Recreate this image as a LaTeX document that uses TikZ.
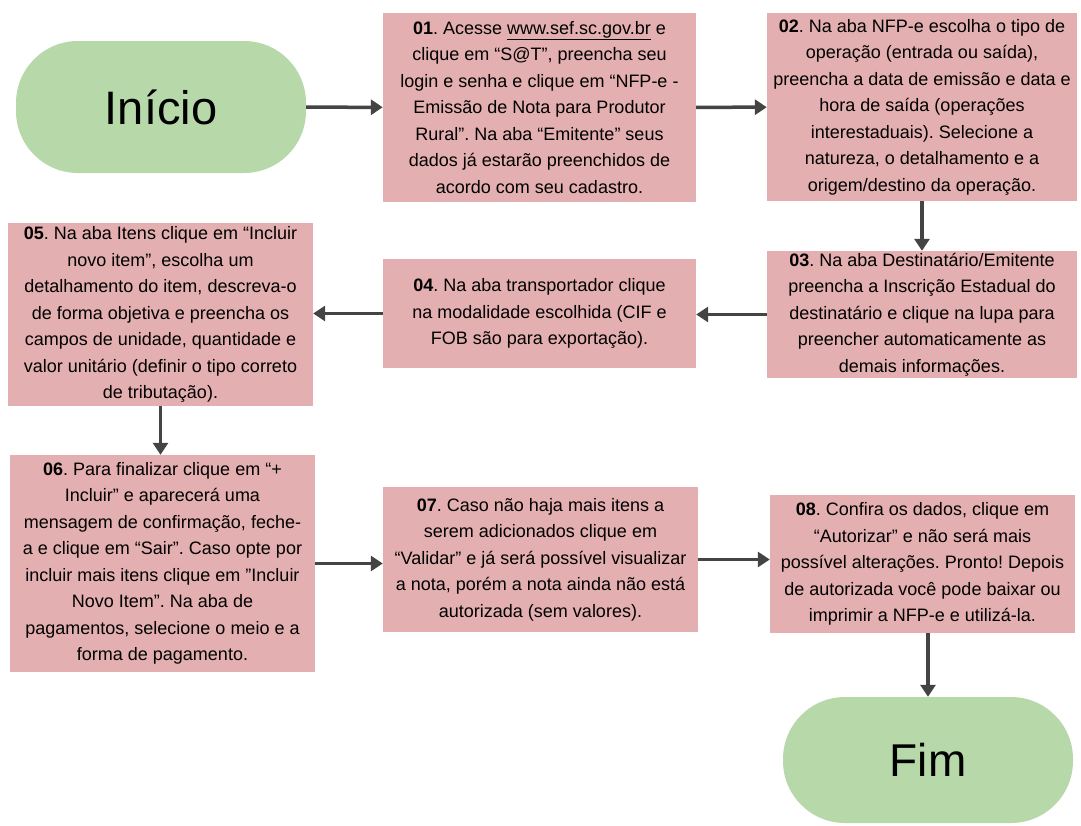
\documentclass[tikz,border=0pt]{standalone}
\usepackage{fontspec}
\setmainfont{Liberation Sans}
\usetikzlibrary{arrows.meta}
\definecolor{boxpink}{HTML}{E4AFB0}
\definecolor{termgreen}{HTML}{B7D9AA}
\definecolor{arrowgray}{HTML}{444444}
\tikzset{
  stepbox/.style={rectangle, fill=boxpink, inner sep=0pt, align=center,
    font=\fontsize{18}{26.5}\selectfont\frenchspacing},
  term/.style={rectangle, rounded corners=62pt, fill=termgreen, inner sep=0pt,
    minimum width=290pt},
  flow/.style={draw=arrowgray, line width=3.5pt, -{Triangle[length=12pt,width=15pt]}}
}
\begin{document}
\frenchspacing
\begin{tikzpicture}[x=1pt,y=1pt]
\useasboundingbox (0,0) rectangle (1081,-825);

\node[term, minimum height=132pt, font=\fontsize{47}{56}\selectfont] (inicio) at (161,-107) {Início};
\node[term, minimum height=126pt, font=\fontsize{46}{55}\selectfont] (fim) at (928,-760) {Fim};

\node[stepbox, minimum width=313pt, minimum height=189pt] (b01) at (539.5,-107.5)
 {\textbf{01}. Acesse \underline{www.sef.sc.gov.br} e\\clique em “S@T”, preencha seu\\login e senha e clique em “NFP-e -\\Emissão de Nota para Produtor\\Rural”. Na aba “Emitente” seus\\dados já estarão preenchidos de\\acordo com seu cadastro.};

\node[stepbox, minimum width=310pt, minimum height=188pt] (b02) at (922,-107)
 {\textbf{02}. Na aba NFP-e escolha o tipo de\\operação (entrada ou saída),\\preencha a data de emissão e data e\\hora de saída (operações\\interestaduais). Selecione a\\natureza, o detalhamento e a\\origem/destino da operação.};

\node[stepbox, minimum width=310pt, minimum height=127pt] (b03) at (922,-314.5)
 {\textbf{03}. Na aba Destinatário/Emitente\\preencha a Inscrição Estadual do\\destinatário e clique na lupa para\\preencher automaticamente as\\demais informações.};

\node[stepbox, minimum width=313pt, minimum height=109pt] (b04) at (539.5,-313.5)
 {\textbf{04}. Na aba transportador clique\\na modalidade escolhida (CIF e\\FOB são para exportação).};

\node[stepbox, minimum width=305pt, minimum height=183pt] (b05) at (160.5,-314.5)
 {\textbf{05}. Na aba Itens clique em “Incluir\\novo item”, escolha um\\detalhamento do item, descreva-o\\de forma objetiva e preencha os\\campos de unidade, quantidade e\\valor unitário (definir o tipo correto\\de tributação).};

\node[stepbox, minimum width=305pt, minimum height=217pt] (b06) at (162.5,-563.5)
 {\textbf{06}. Para finalizar clique em “+\\Incluir” e aparecerá uma\\mensagem de confirmação, feche-\\a e clique em “Sair”. Caso opte por\\incluir mais itens clique em ”Incluir\\Novo Item”. Na aba de\\pagamentos, selecione o meio e a\\forma de pagamento.};

\node[stepbox, minimum width=315pt, minimum height=145pt] (b07) at (540.5,-559.5)
 {\textbf{07}. Caso não haja mais itens a\\serem adicionados clique em\\“Validar” e já será possível visualizar\\a nota, porém a nota ainda não está\\autorizada (sem valores).};

\node[stepbox, minimum width=305pt, minimum height=138pt] (b08) at (922.5,-564)
 {\textbf{08}. Confira os dados, clique em\\“Autorizar” e não será mais\\possível alterações. Pronto! Depois\\de autorizada você pode baixar ou\\imprimir a NFP-e e utilizá-la.};

\draw[flow] (inicio) -- (b01);
\draw[flow] (b01) -- (b02);
\draw[flow] (b02) -- (b03);
\draw[flow] (b03.west) -- (b03.west -| b04.east);
\draw[flow] (b04.west) -- (b04.west -| b05.east);
\draw[flow] (b05.south) -- (b05.south |- b06.north);
\draw[flow] (b06.east) -- (b06.east -| b07.west);
\draw[flow] (b07.east) -- (b07.east -| b08.west);
\draw[flow] (b08.south -| fim.north) -- (fim.north);
\end{tikzpicture}
\end{document}
